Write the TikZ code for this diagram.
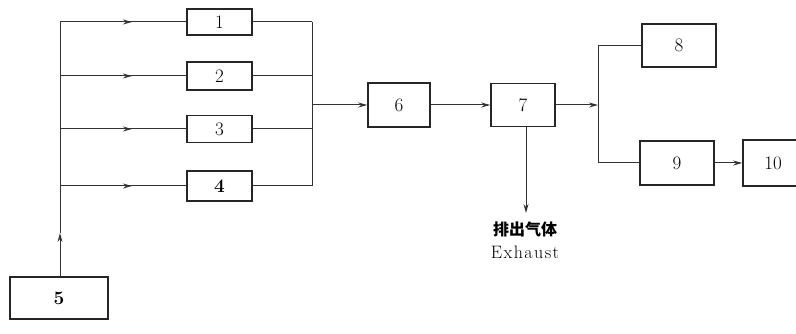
\documentclass[tikz,border=0pt]{standalone}
\usepackage{fontspec}
\newfontfamily\cjk{Noto Sans CJK SC}
\newfontfamily\exfont[LetterSpace=8]{Latin Modern Roman}
\usetikzlibrary{arrows.meta,decorations.markings}
\begin{document}
\begin{tikzpicture}[x=1pt,y=-1pt,
  box/.style={draw=black!85,line width=1.6pt,rectangle,inner sep=0pt,font=\fontsize{19}{19}\selectfont},
  conn/.style={draw=black!80,line width=1pt},
  tip/.style={-{Stealth[length=9pt,width=5pt]}},
  midarrow/.style={postaction={decorate},decoration={markings,mark=at position #1 with {\arrow{Stealth[length=9pt,width=5pt]}}}}
]
\useasboundingbox (0,0) rectangle (796,334);
\clip (0,0) rectangle (796,334);
% boxes
\node[box,minimum width=65pt,minimum height=26pt] (b1) at (219.5,22) {1};
\node[box,minimum width=65pt,minimum height=28pt] (b2) at (219.5,76) {2};
\node[box,minimum width=65pt,minimum height=27pt] (b3) at (219.5,129) {3};
\node[box,minimum width=65pt,minimum height=30pt] (b4) at (219.5,186) {\textbf{4}};
\node[box,line width=2.2pt,minimum width=98pt,minimum height=42pt] (b5) at (59,298) {\textbf{5}};
\node[box,minimum width=62pt,minimum height=44pt] (b6) at (399,105) {6};
\node[box,minimum width=64pt,minimum height=43pt] (b7) at (523,105) {7};
\node[box,minimum width=74pt,minimum height=43pt] (b8) at (679,45.5) {8};
\node[box,minimum width=74pt,minimum height=44pt] (b9) at (677,163) {9};
\node[box,minimum width=60pt,minimum height=46pt] (b10) at (773,163) {10};
% junction coordinates
\coordinate (t1) at (60,22);
\coordinate (t2) at (60,76);
\coordinate (t3) at (60,129);
\coordinate (t4) at (60,186);
\coordinate (ta) at (60,233);
\coordinate (c1) at (312,22);
\coordinate (c2) at (312,76);
\coordinate (c3) at (312,129);
\coordinate (c4) at (312,186);
\coordinate (cm) at (312,105);
\coordinate (s) at (598,105);
\coordinate (s8) at (598,45.5);
\coordinate (s9) at (598,163);
\coordinate (ex) at (526,213);
% trunk from 5
\draw[conn,tip] (b5.north -| t1) -- (ta);
\draw[conn] (ta) -- (t1);
% branches
\draw[conn,midarrow=0.57] (t1) -- (b1.west);
\draw[conn,midarrow=0.57] (t2) -- (b2.west);
\draw[conn,midarrow=0.57] (t3) -- (b3.west);
\draw[conn,midarrow=0.57] (t4) -- (b4.west);
% collector
\draw[conn] (b1.east) -- (c1);
\draw[conn] (b2.east) -- (c2);
\draw[conn] (b3.east) -- (c3);
\draw[conn] (b4.east) -- (c4);
\draw[conn] (c1) -- (c4);
\draw[conn,tip] (cm) -- (b6.west);
\draw[conn,tip] (b6.east) -- (b7.west);
\draw[conn,tip] (b7.south -| ex) -- (ex);
\draw[conn,tip] (b7.east) -- (s);
\draw[conn] (s8) -- (s9);
\draw[conn] (s8) -- (b8.west);
\draw[conn] (s9) -- (b9.west);
\draw[conn,tip] (b9.east) -- (b10.west);
% exhaust label
\node[font=\cjk\bfseries\fontsize{16}{16}\selectfont,inner sep=0pt] (lz) at (525,229) {排出气体};
\node[font=\exfont\fontsize{18}{18}\selectfont,inner sep=0pt] (le) at (525,252) {Exhaust};
\end{tikzpicture}
\end{document}
